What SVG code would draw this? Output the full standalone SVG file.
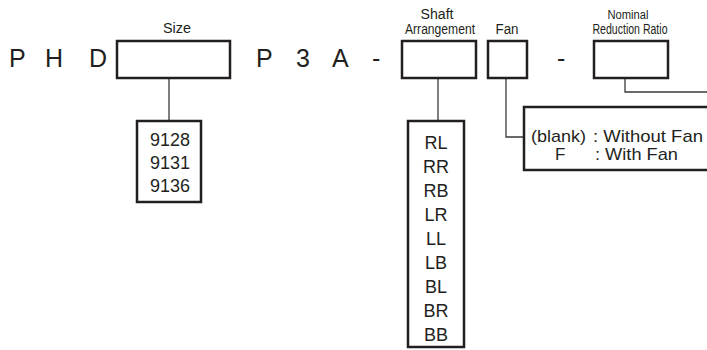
<svg xmlns="http://www.w3.org/2000/svg" width="707" height="350" viewBox="0 0 707 350">
<style>
.box{fill:#fff;stroke:#231f20;stroke-width:2.5}
.conn{fill:none;stroke:#3a3a3a;stroke-width:1.3}
text{font-family:"Liberation Sans",Arial,sans-serif;fill:#231f20}
.big{font-size:25px}
.lbl{font-size:14px;text-anchor:middle}
.val{font-size:18px;text-anchor:middle}
.leg{font-size:17px}
</style>
<rect width="707" height="350" fill="#fff"/>
<g id="code">
<text class="big" x="9" y="67">P</text>
<text class="big" x="45" y="67">H</text>
<text class="big" x="89" y="67">D</text>
<text class="big" x="256" y="67">P</text>
<text class="big" x="296" y="67">3</text>
<text class="big" x="332" y="67">A</text>
<text class="big" x="372" y="67">-</text>
<text class="big" x="557" y="67">-</text>
</g>
<g id="connectors">
<path class="conn" d="M169,78V121"/>
<path class="conn" d="M438,78V121"/>
<path class="conn" d="M506,78V137H524"/>
<path class="conn" d="M625,78V92H710"/>
</g>
<g id="size">
<text class="lbl" x="177" y="33" textLength="28" lengthAdjust="spacingAndGlyphs">Size</text>
<rect class="box" x="117" y="41" width="113" height="37"/>
</g>
<g id="size-values">
<rect class="box" x="137" y="121" width="64" height="81"/>
<text class="val" x="170" y="146">9128</text>
<text class="val" x="170" y="169">9131</text>
<text class="val" x="170" y="192">9136</text>
</g>
<g id="shaft">
<text class="lbl" x="437" y="19" textLength="33" lengthAdjust="spacingAndGlyphs">Shaft</text>
<text class="lbl" x="440" y="34" textLength="70" lengthAdjust="spacingAndGlyphs">Arrangement</text>
<rect class="box" x="402" y="41" width="74" height="37"/>
</g>
<g id="shaft-values">
<rect class="box" x="408" y="121" width="56" height="226"/>
<text class="val" x="436" y="149">RL</text>
<text class="val" x="436" y="173">RR</text>
<text class="val" x="436" y="197">RB</text>
<text class="val" x="436" y="221">LR</text>
<text class="val" x="436" y="245">LL</text>
<text class="val" x="436" y="269">LB</text>
<text class="val" x="436" y="293">BL</text>
<text class="val" x="436" y="317">BR</text>
<text class="val" x="436" y="341">BB</text>
</g>
<g id="fan">
<text class="lbl" x="507" y="34" textLength="23" lengthAdjust="spacingAndGlyphs">Fan</text>
<rect class="box" x="488" y="41" width="39" height="37"/>
</g>
<g id="fan-legend">
<rect class="box" x="524" y="107" width="200" height="63"/>
<text class="leg" x="531" y="142" textLength="55" lengthAdjust="spacingAndGlyphs">(blank)</text>
<text class="leg" x="593" y="142" textLength="110" lengthAdjust="spacingAndGlyphs">: Without Fan</text>
<text class="leg" x="555" y="160">F</text>
<text class="leg" x="595" y="160" textLength="83" lengthAdjust="spacingAndGlyphs">: With Fan</text>
</g>
<g id="ratio">
<text class="lbl" x="628" y="19" style="font-size:12px" textLength="41" lengthAdjust="spacingAndGlyphs">Nominal</text>
<text class="lbl" x="630" y="34" textLength="75" lengthAdjust="spacingAndGlyphs">Reduction Ratio</text>
<rect class="box" x="594" y="41" width="74" height="37"/>
</g>
</svg>
